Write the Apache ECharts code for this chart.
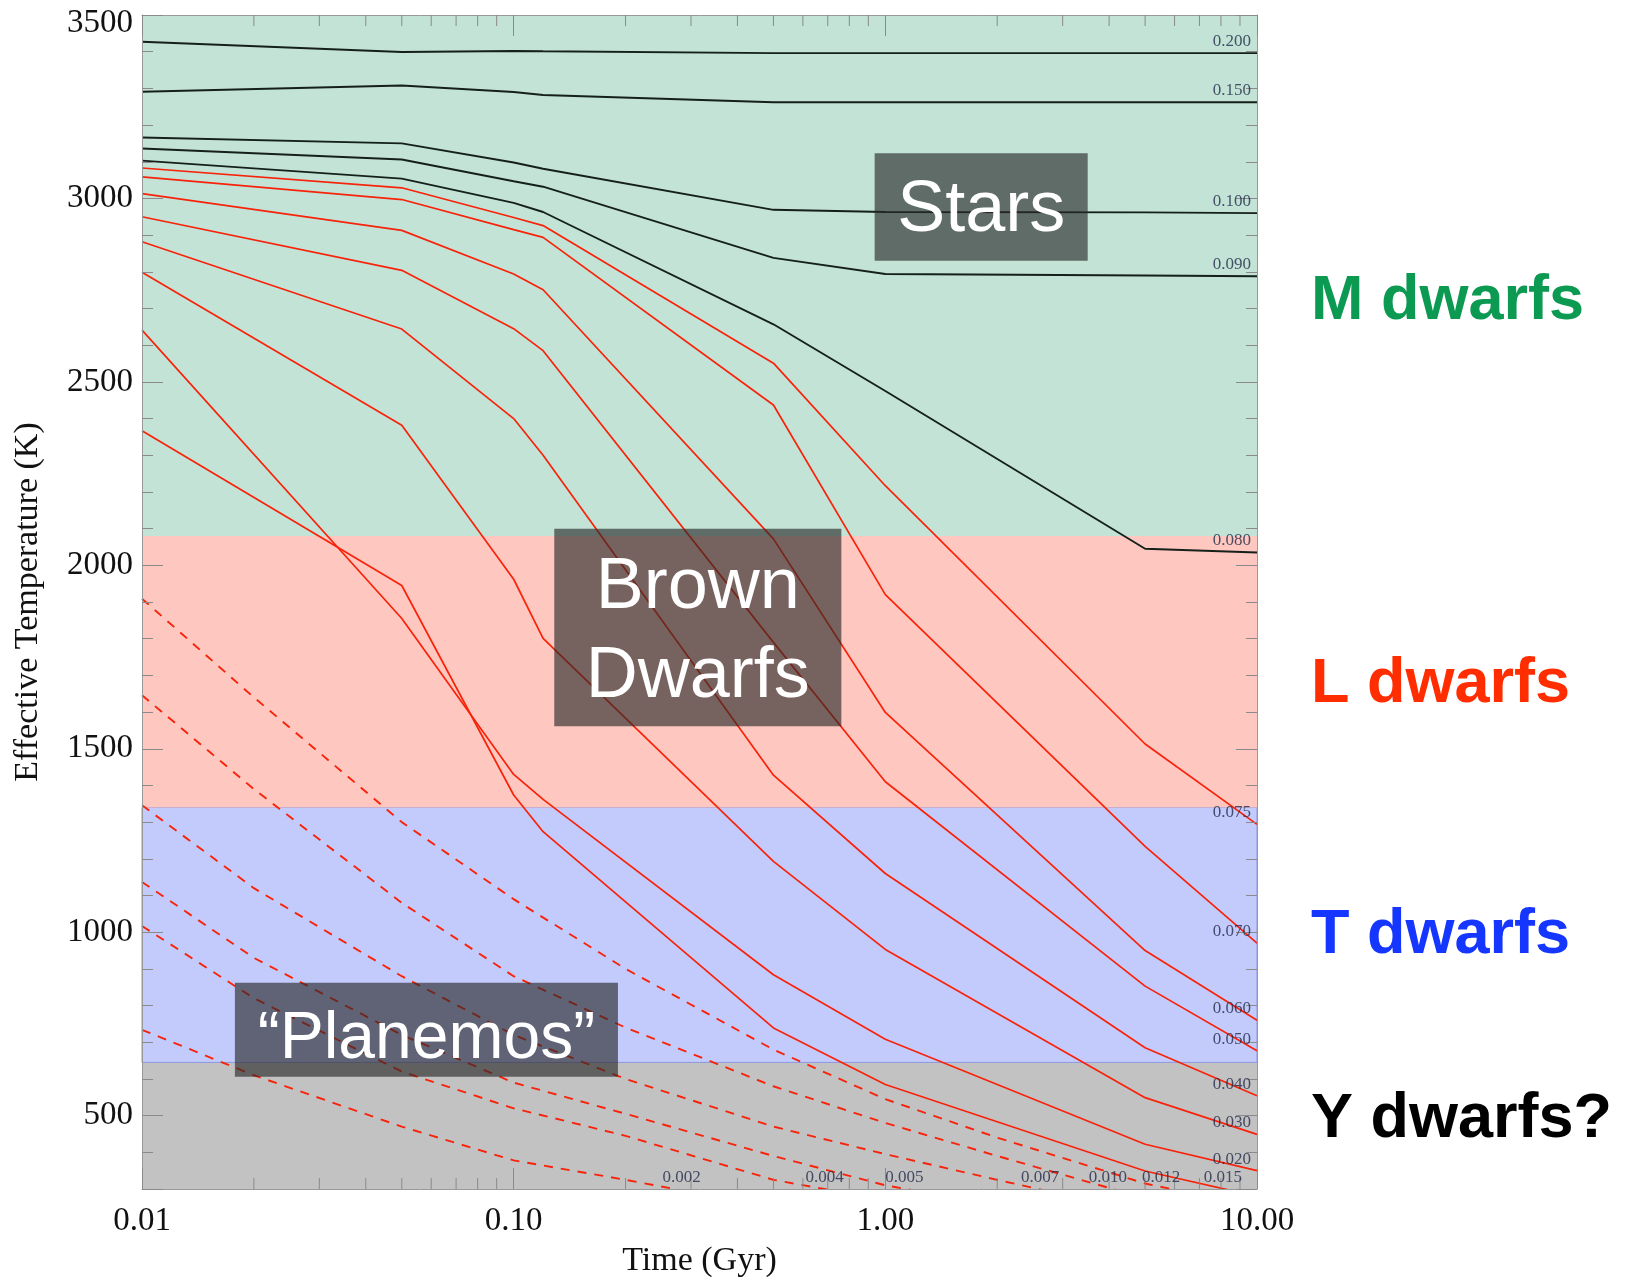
<!DOCTYPE html>
<html lang="en">
<head>
<meta charset="UTF-8">
<title>Cooling tracks</title>
<style>
  html, body { margin: 0; padding: 0; background: #fff; }
  #main { width: 1638px; height: 1284px; }
</style>
</head>
<body>
<div id="main"></div>
<script src="https://cdn.jsdelivr.net/npm/echarts@6/dist/echarts.min.js"></script>
<script type="text/javascript">
// model ages (Gyr) of the solid tracks
var times = [0.01, 0.05, 0.1, 0.12, 0.5, 1, 5, 10];
// stars (black)
var m200 = [3427, 3399, 3402, 3401, 3396, 3396, 3396, 3396];
var m150 = [3291, 3308, 3290, 3282, 3262, 3262, 3262, 3262];
var m100 = [3166, 3150, 3098, 3081, 2969, 2963, 2962, 2960];
var m090 = [3136, 3106, 3047, 3032, 2838, 2794, 2790, 2788];
var m080 = [3103, 3054, 2988, 2963, 2657, 2475, 2045, 2035];
// brown dwarfs (red, solid)
var m075 = [3083, 3029, 2948, 2926, 2551, 2217, 1513, 1294];
var m070 = [3059, 2997, 2915, 2894, 2437, 1920, 1234, 970];
var m060 = [3013, 2913, 2794, 2751, 2072, 1599, 950, 760];
var m050 = [2950, 2804, 2645, 2585, 1790, 1410, 853, 677];
var m040 = [2882, 2644, 2400, 2300, 1428, 1160, 685, 554];
var m030 = [2799, 2382, 1962, 1801, 1193, 953, 549, 449];
var m020 = [2641, 1855, 1430, 1362, 884, 708, 422, 350];
var m015 = [2367, 1945, 1374, 1274, 739, 585, 349, 280];
// planemos (red, dashed)
var dashTimes = [0.01, 0.02, 0.05, 0.1, 0.2, 0.5, 1, 2, 5, 10];
var m012 = [1909, 1640, 1300, 1090, 900, 680, 545, 440, 315, 250];
var m010 = [1646, 1390, 1080, 880, 740, 580, 480, 390, 275, 215];
var m007 = [1346, 1120, 880, 720, 600, 470, 395, 325, 235, 185];
var m005 = [1137, 930, 720, 590, 505, 390, 310, 255, 190, 150];
var m004 = [1017, 820, 620, 520, 445, 325, 270, 215, 160, 125];
var m002 = [734, 610, 470, 378, 325, 250, 200, 160, 120, 95];

var starTracks = [['0.200', m200], ['0.150', m150], ['0.100', m100], ['0.090', m090], ['0.080', m080]];
var bdTracks = [['0.075', m075], ['0.070', m070], ['0.060', m060], ['0.050', m050],
                ['0.040', m040], ['0.030', m030], ['0.020', m020], ['0.015', m015]];
var planetTracks = [['0.012', m012], ['0.010', m010], ['0.007', m007], ['0.005', m005], ['0.004', m004], ['0.002', m002]];

// masses labelled along the bottom edge, and where
var bottomNames = ['0.002', '0.004', '0.005', '0.007', '0.010', '0.012', '0.015'];
var bottomTimes = [0.283, 0.686, 1.125, 2.61, 3.97, 5.52, 8.1];

// spectral class bands
var bandEdges = [300, 645, 1340, 2080, 3500];
var bandColors = ['#c2c2c2', '#c3cbfc', '#fec7bf', '#c2e3d5'];
var classNames = ['M dwarfs', 'L dwarfs', 'T dwarfs', 'Y dwarfs?'];
var classColors = ['#0c9a52', '#ff2d00', '#1436ff', '#000000'];
var classY = [302, 685, 936, 1120];

// grey boxes: [t0, t1, T0, T1]
var boxNames = ['Stars', 'Brown\nDwarfs', '\u201cPlanemos\u201d'];
var boxRects = [[0.936, 3.503, 2830, 3123], [0.1286, 0.7615, 1561, 2100], [0.01778, 0.1908, 606, 862]];
var boxFont = [72, 72, 66];
var boxShift = [4, 5, 10];

var yMin = 300, yMax = 3500;
var serif = '"Liberation Serif", "DejaVu Serif", serif';
var sans = '"Liberation Sans", Arial, sans-serif';
var tickColor = '#8a8a8a';

function pairs(xs, ys) {
  return ys.map(function (v, i) { return [xs[i], v]; });
}

// minor ticks of the log axis (2..9 in each decade)
var minorX = [];
[0.01, 0.1, 1].forEach(function (d) {
  for (var k = 2; k <= 9; k++) minorX.push(+(d * k).toFixed(4));
});

var chart = echarts.init(document.getElementById('main'));
var series = [];

// background bands
series.push({
  type: 'line', data: [], silent: true,
  markArea: {
    silent: true,
    data: bandColors.map(function (c, i) {
      var st = { color: c, opacity: 1 };
      if (i === 1) { st.borderColor = '#8d96dc'; st.borderWidth = 1; }
      return [{ yAxis: bandEdges[i], itemStyle: st }, { yAxis: bandEdges[i + 1] }];
    }),
    label: { show: false }
  }
});

starTracks.forEach(function (s) {
  series.push({
    type: 'line', name: s[0], data: pairs(times, s[1]), symbol: 'none', z: 2,
    silent: true, lineStyle: { color: '#15201a', width: 1.9 }
  });
});
bdTracks.forEach(function (s) {
  series.push({
    type: 'line', name: s[0], data: pairs(times, s[1]), symbol: 'none', z: 2,
    silent: true, lineStyle: { color: '#f8230a', width: 1.7 }
  });
});
planetTracks.forEach(function (s) {
  series.push({
    type: 'line', name: s[0], data: pairs(dashTimes, s[1]), symbol: 'none', z: 2,
    silent: true, lineStyle: { color: '#f8230a', width: 1.9, type: [9, 8] }
  });
});

// minor x ticks, bottom and top
series.push({
  type: 'custom', z: 4, silent: true, clip: false,
  data: minorX.map(function (v) { return [v, yMin]; }),
  renderItem: function (params, api) {
    var v = api.value(0);
    var lo = api.coord([v, yMin]);
    var hi = api.coord([v, yMax]);
    return {
      type: 'group', children: [
        { type: 'line', shape: { x1: lo[0], y1: lo[1], x2: lo[0], y2: lo[1] - 11 }, style: { stroke: tickColor, lineWidth: 1 } },
        { type: 'line', shape: { x1: hi[0], y1: hi[1], x2: hi[0], y2: hi[1] + 11 }, style: { stroke: tickColor, lineWidth: 1 } }
      ]
    };
  }
});

// mass labels
var rightLabels = starTracks.concat(bdTracks.slice(0, 7)).map(function (s) {
  return [10, s[1][s[1].length - 1], s[0]];
});
var lowLabels = bottomNames.map(function (n, i) { return [bottomTimes[i], yMin, n]; });
var massLabel = {
  show: true, position: 'top', distance: 3,
  formatter: function (p) { return p.value[2]; },
  fontFamily: serif, fontSize: 17, color: '#232b4a'
};
series.push({
  type: 'scatter', z: 5, silent: true, clip: false, symbolSize: 0,
  data: rightLabels,
  label: Object.assign({}, massLabel, { align: 'right', offset: [-6, 0] })
});
series.push({
  type: 'scatter', z: 5, silent: true, clip: false, symbolSize: 0,
  data: lowLabels,
  label: massLabel
});

// grey annotation boxes
series.push({
  type: 'custom', z: 10, silent: true, clip: false,
  encode: { x: [0, 1], y: [2, 3] },
  data: boxRects.map(function (b, i) { return [b[0], b[1], b[2], b[3], i]; }),
  renderItem: function (params, api) {
    var i = api.value(4);
    var p0 = api.coord([api.value(0), api.value(3)]);
    var p1 = api.coord([api.value(1), api.value(2)]);
    return {
      type: 'group', children: [
        { type: 'rect', shape: { x: p0[0], y: p0[1], width: p1[0] - p0[0], height: p1[1] - p0[1] },
          style: { fill: 'rgba(40,40,40,0.64)' } },
        { type: 'text', style: {
            x: (p0[0] + p1[0]) / 2, y: (p0[1] + p1[1]) / 2 + boxShift[i], text: boxNames[i],
            fill: '#ffffff', fontSize: boxFont[i], fontFamily: sans,
            align: 'center', verticalAlign: 'middle', lineHeight: 89 } }
      ]
    };
  }
});

var option = {
  animation: false,
  grid: { left: 142, right: 381, top: 15, bottom: 95 },
  xAxis: [{
    type: 'log', logBase: 10, min: 0.01, max: 10, z: 3,
    name: 'Time (Gyr)', nameLocation: 'middle', nameGap: 55,
    nameTextStyle: { fontFamily: serif, fontSize: 34, color: '#111' },
    axisLine: { lineStyle: { color: '#999', width: 1 } },
    axisTick: { inside: true, length: 21, lineStyle: { color: tickColor } },
    splitLine: { show: false },
    axisLabel: {
      margin: 16, fontFamily: serif, fontSize: 33, color: '#111',
      formatter: function (v) { return (+v).toFixed(2); }
    }
  }, {
    type: 'log', logBase: 10, min: 0.01, max: 10, position: 'top', z: 3,
    axisLine: { lineStyle: { color: '#999', width: 1 } },
    axisTick: { inside: true, length: 21, lineStyle: { color: tickColor } },
    splitLine: { show: false }, axisLabel: { show: false }
  }],
  yAxis: [{
    type: 'value', min: yMin, max: yMax, z: 3,
    name: 'Effective Temperature (K)', nameLocation: 'middle', nameGap: 97,
    nameTextStyle: { fontFamily: serif, fontSize: 34, color: '#111' },
    axisLine: { show: true, lineStyle: { color: '#999', width: 1 } },
    axisTick: { inside: true, length: 21, lineStyle: { color: tickColor } },
    minorTick: { show: true, splitNumber: 5, length: 11, lineStyle: { color: tickColor } },
    splitLine: { show: false },
    axisLabel: {
      margin: 9, fontFamily: serif, fontSize: 33, color: '#111',
      formatter: function (v) {
        if (v % 500 !== 0) return '';
        return v === yMax ? '{top|' + v + '}' : String(v);
      },
      rich: { top: { fontFamily: serif, fontSize: 33, color: '#111', padding: [16, 0, 0, 0] } }
    }
  }, {
    type: 'value', min: yMin, max: yMax, position: 'right', z: 3,
    axisLine: { show: true, lineStyle: { color: '#999', width: 1 } },
    axisTick: { inside: true, length: 21, lineStyle: { color: tickColor } },
    minorTick: { show: true, splitNumber: 5, length: 11, lineStyle: { color: tickColor } },
    splitLine: { show: false }, axisLabel: { show: false }
  }],
  graphic: classNames.map(function (n, i) {
    return {
      type: 'text', x: 1311, y: classY[i], silent: true,
      style: { text: n, fill: classColors[i], font: 'bold 63px ' + sans, verticalAlign: 'middle' }
    };
  }),
  series: series
};

chart.setOption(option);
</script>
</body>
</html>
